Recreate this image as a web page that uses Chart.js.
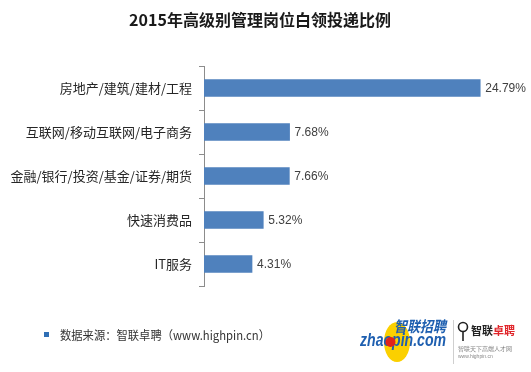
<!DOCTYPE html>
<html>
<head>
<meta charset="utf-8">
<script src="https://cdn.jsdelivr.net/npm/chart.js@4.4.1/dist/chart.umd.min.js"></script>
<style>
html,body{margin:0;padding:0;background:#fff;}
#wrap{width:531px;height:372px;position:relative;}
</style>
</head>
<body>
<div id="wrap"><canvas id="c"></canvas></div>
<script>
const titleText = '2015年高级别管理岗位白领投递比例';
const categories = ['房地产/建筑/建材/工程', '互联网/移动互联网/电子商务', '金融/银行/投资/基金/证券/期货', '快速消费品', 'IT服务'];
const values = [24.79, 7.68, 7.66, 5.32, 4.31];
const valueLabels = ['24.79%', '7.68%', '7.66%', '5.32%', '4.31%'];
const sourceText = '数据来源：智联卓聘（www.highpin.cn）';

const CJK = "'Noto Sans CJK SC', 'Noto Sans', sans-serif";

function fitText(ctx, text, x, y, width) {
  const w = ctx.measureText(text).width;
  ctx.save();
  ctx.translate(x, y);
  ctx.scale(width / w, 1);
  ctx.fillText(text, 0, 0);
  ctx.restore();
}

const overlay = {
  id: 'overlay',
  afterDatasetsDraw(chart) {
    const ctx = chart.ctx;
    const meta = chart.getDatasetMeta(0);
    ctx.save();
    ctx.fillStyle = '#404040';
    ctx.font = "12px 'Liberation Sans', Arial, sans-serif";
    ctx.textBaseline = 'middle';
    ctx.textAlign = 'left';
    meta.data.forEach((bar, i) => {
      ctx.fillText(valueLabels[i], bar.x + 5, bar.y + 1);
    });
    ctx.restore();
  },
  afterDraw(chart) {
    const ctx = chart.ctx;
    ctx.save();
    // title
    ctx.fillStyle = '#1a1a1a';
    ctx.font = "bold 16px " + CJK;
    ctx.textAlign = 'center';
    ctx.textBaseline = 'middle';
    ctx.fillText(titleText, 260, 20);

    // footer source
    ctx.fillStyle = '#2f6fb5';
    ctx.fillRect(44, 332, 5, 5);
    ctx.fillStyle = '#333';
    ctx.font = "12px " + CJK;
    ctx.textAlign = 'left';
    fitText(ctx, sourceText, 60, 335, 210);

    // zhaopin logo
    ctx.fillStyle = '#fbd000';
    ctx.beginPath();
    ctx.ellipse(397, 342, 13, 20, 0, 0, Math.PI * 2);
    ctx.fill();
    ctx.fillStyle = '#1e5fb0';
    ctx.font = "italic bold 15px " + CJK;
    fitText(ctx, '智联招聘', 394, 326, 52);
    ctx.font = "italic bold 18px 'Liberation Sans', Arial, sans-serif";
    fitText(ctx, 'zhaopin.com', 360, 341, 86);
    ctx.fillStyle = '#e2231a';
    ctx.beginPath();
    ctx.arc(390.5, 342, 5, 0, Math.PI * 2);
    ctx.fill();

    // separator
    ctx.strokeStyle = '#cfcfcf';
    ctx.lineWidth = 1;
    ctx.beginPath();
    ctx.moveTo(453.5, 320);
    ctx.lineTo(453.5, 364);
    ctx.stroke();

    // highpin logo
    ctx.strokeStyle = '#222';
    ctx.lineWidth = 1.6;
    ctx.beginPath();
    ctx.arc(463, 327, 4.5, 0, Math.PI * 2);
    ctx.stroke();
    ctx.beginPath();
    ctx.moveTo(463, 331.5);
    ctx.lineTo(463, 341);
    ctx.stroke();
    ctx.font = "bold 11px " + CJK;
    ctx.fillStyle = '#222';
    ctx.fillText('智联', 471, 331);
    ctx.fillStyle = '#e0262b';
    ctx.fillText('卓聘', 493, 331);
    ctx.fillStyle = '#888';
    ctx.font = "6px " + CJK;
    ctx.fillText('智联天下高端人才网', 458, 349);
    ctx.font = "5px 'Liberation Sans', Arial, sans-serif";
    ctx.fillText('www.highpin.cn', 458, 357);
    ctx.restore();
  }
};

new Chart(document.getElementById('c'), {
  type: 'bar',
  data: {
    labels: categories,
    datasets: [{
      data: values,
      backgroundColor: '#4f81bd',
      borderWidth: 0,
      barThickness: 17
    }]
  },
  options: {
    indexAxis: 'y',
    responsive: true,
    maintainAspectRatio: false,
    animation: false,
    layout: { padding: { top: 66, bottom: 86, left: 0, right: 15 } },
    plugins: {
      legend: { display: false },
      title: { display: false },
      tooltip: { enabled: false }
    },
    scales: {
      x: { display: false, min: 0, max: 28 },
      y: {
        afterFit(scale) { scale.width = 204; },
        grid: {
          display: true,
          drawOnChartArea: false,
          drawTicks: true,
          tickLength: 5,
          color: '#8c8c8c',
          offset: true
        },
        border: { display: true, color: '#8c8c8c' },
        ticks: {
          padding: 7,
          color: '#262626',
          font: { family: CJK, size: 13 }
        }
      }
    }
  },
  plugins: [overlay]
});
</script>
</body>
</html>
